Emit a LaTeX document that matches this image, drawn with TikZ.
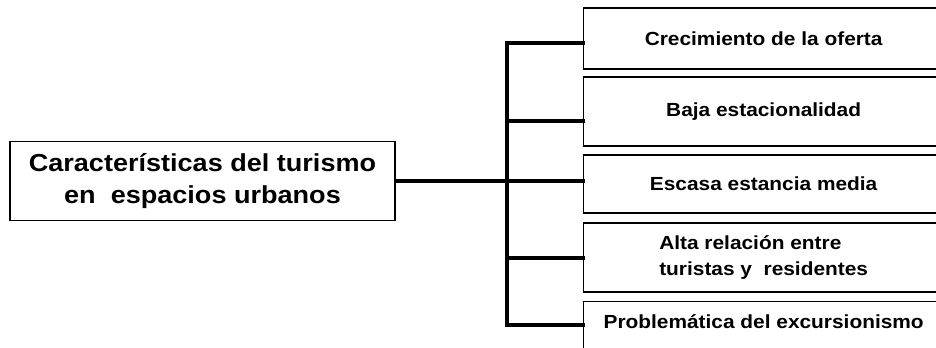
\documentclass[tikz,border=0pt]{standalone}
\usepackage{fontspec}
\setmainfont{Liberation Sans}[FakeStretch=1.1]

\begin{document}
\begin{tikzpicture}[x=0.02cm,y=-0.02cm,
  mainbox/.style={draw,line width=0.7pt,minimum width=7.7cm,minimum height=1.58cm,
    align=center,font=\fontsize{14}{18}\selectfont\bfseries},
  itembox/.style={draw,line width=0.8pt,minimum width=7.2cm,anchor=west,
    align=left,font=\fontsize{10.8}{14.6}\selectfont\bfseries},
  branch/.style={line width=2.2pt,line cap=rect}]
\useasboundingbox (0,0) rectangle (936,348);
\clip (0,0) rectangle (936,348);

\node[mainbox] (main) at (202.5,181) {Características del turismo\\en\ \ espacios urbanos};

\node[itembox,minimum height=1.22cm] (oferta) at (583,38.5) {Crecimiento de la oferta};
\node[itembox,minimum height=1.38cm] (estac) at (583,111.5) {Baja estacionalidad};
\node[itembox,minimum height=1.16cm] (estancia) at (583,184) {Escasa estancia media};
\node[itembox,minimum height=1.38cm] (relacion) at (583,257.5) {Alta relación entre\\turistas y\ \ residentes};
\node[itembox,anchor=north west,inner ysep=0pt,text height=15pt,text depth=30pt] (excur) at (583,301) {Problemática del excursionismo};

\coordinate (j1) at (507,43);
\coordinate (j2) at (507,121);
\coordinate (j3) at (507,181);
\coordinate (j4) at (507,258);
\coordinate (j5) at (507,325);

\draw[branch] (main) -- (j3);
\draw[branch] (j1) -- (j5);
\foreach \j/\b in {j1/oferta,j2/estac,j3/estancia,j4/relacion,j5/excur}
  \draw[branch] (\j) -- (\j -| \b.west);

\end{tikzpicture}
\end{document}
